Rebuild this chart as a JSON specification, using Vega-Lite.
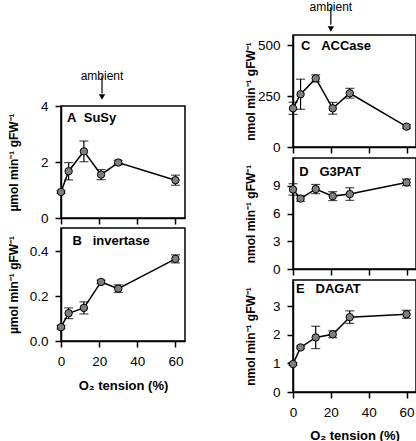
{
  "$schema": "https://vega.github.io/schema/vega-lite/v6.json",
  "padding": {"left": 6, "top": 0, "right": 0, "bottom": 0},
  "autosize": {"type": "pad"},
  "datasets": {
    "enz": [
      {"panel": "A", "o2": 0, "mean": 0.93, "se": 0.05},
      {"panel": "A", "o2": 4, "mean": 1.67, "se": 0.31},
      {"panel": "A", "o2": 12, "mean": 2.38, "se": 0.37},
      {"panel": "A", "o2": 21, "mean": 1.55, "se": 0.18},
      {"panel": "A", "o2": 30, "mean": 1.98, "se": 0.08},
      {"panel": "A", "o2": 60, "mean": 1.35, "se": 0.18},
      {"panel": "B", "o2": 0, "mean": 0.062, "se": 0.008},
      {"panel": "B", "o2": 4, "mean": 0.124, "se": 0.024},
      {"panel": "B", "o2": 12, "mean": 0.148, "se": 0.027},
      {"panel": "B", "o2": 21, "mean": 0.264, "se": 0.008},
      {"panel": "B", "o2": 30, "mean": 0.234, "se": 0.017},
      {"panel": "B", "o2": 60, "mean": 0.367, "se": 0.018},
      {"panel": "C", "o2": 0, "mean": 190, "se": 30},
      {"panel": "C", "o2": 4, "mean": 259, "se": 74},
      {"panel": "C", "o2": 12, "mean": 337, "se": 17},
      {"panel": "C", "o2": 21, "mean": 190, "se": 29},
      {"panel": "C", "o2": 30, "mean": 264, "se": 24},
      {"panel": "C", "o2": 60, "mean": 100, "se": 8},
      {"panel": "D", "o2": 0, "mean": 8.6, "se": 0.62},
      {"panel": "D", "o2": 4, "mean": 7.62, "se": 0.3},
      {"panel": "D", "o2": 12, "mean": 8.64, "se": 0.5},
      {"panel": "D", "o2": 21, "mean": 7.88, "se": 0.48},
      {"panel": "D", "o2": 30, "mean": 8.1, "se": 0.68},
      {"panel": "D", "o2": 60, "mean": 9.36, "se": 0.36},
      {"panel": "E", "o2": 0, "mean": 0.98, "se": 0.05},
      {"panel": "E", "o2": 4, "mean": 1.56, "se": 0.05},
      {"panel": "E", "o2": 12, "mean": 1.91, "se": 0.39},
      {"panel": "E", "o2": 21, "mean": 2.02, "se": 0.12},
      {"panel": "E", "o2": 30, "mean": 2.62, "se": 0.22},
      {"panel": "E", "o2": 60, "mean": 2.72, "se": 0.14}
    ],
    "titles": [
      {"panel": "A", "o2": 3.2, "mean": 3.58, "label": "A\u00a0\u00a0SuSy"},
      {"panel": "B", "o2": 6, "mean": 0.446, "label": "B\u00a0\u00a0\u00a0invertase"},
      {"panel": "C", "o2": 4.2, "mean": 498, "label": "C\u00a0\u00a0\u00a0ACCase"},
      {"panel": "D", "o2": 3.3, "mean": 10.5, "label": "D\u00a0\u00a0\u00a0G3PAT"},
      {"panel": "E", "o2": 1.6, "mean": 3.59, "label": "E\u00a0\u00a0\u00a0DAGAT"}
    ],
    "ambient": [
      {"panel": "A", "o2": 21.5, "mean": 5.07, "end": 4.45, "tip": 4.32, "label": "ambient"},
      {"panel": "C", "o2": 20, "mean": 686, "end": 600, "tip": 579, "label": "ambient"}
    ]
  },
  "hconcat": [
    {
      "vconcat": [
        {
          "width": 124, "height": 61,
          "data": {"values": [{"k": 1}]},
          "mark": {"type": "text", "text": ""},
          "view": {"stroke": null}
        },
        {
          "width": 124, "height": 112,
          "encoding": {
            "x": {"field": "o2", "type": "quantitative", "scale": {"domain": [0, 65], "nice": false, "zero": false}, "axis": {"values": [0, 20, 40, 60], "labels": false, "title": null}},
            "y": {"field": "mean", "type": "quantitative", "scale": {"domain": [0, 4], "nice": false}, "axis": {"values": [0, 2, 4], "title": "µmol min⁻¹ gFW⁻¹", "titleX": -40.5}}
          },
          "layer": [
            {"data": {"name": "enz"}, "transform": [{"filter": "datum.panel === 'A'"}], "mark": {"type": "errorbar", "ticks": true, "size": 9, "thickness": 1.2, "color": "black"}, "encoding": {"yError": {"field": "se"}}},
            {"data": {"name": "enz"}, "transform": [{"filter": "datum.panel === 'A'"}], "mark": {"type": "line", "color": "black", "strokeWidth": 1.5}},
            {"data": {"name": "enz"}, "transform": [{"filter": "datum.panel === 'A'"}], "mark": {"type": "point", "filled": true, "fill": "#7f7f7f", "stroke": "black", "strokeWidth": 1, "size": 55, "opacity": 1}},
            {"data": {"name": "titles"}, "transform": [{"filter": "datum.panel === 'A'"}], "mark": {"type": "text", "align": "left", "baseline": "middle", "fontWeight": "bold", "fontSize": 13, "font": "Liberation Sans", "color": "black"}, "encoding": {"text": {"field": "label"}}},
            {"data": {"name": "ambient"}, "transform": [{"filter": "datum.panel === 'A'"}], "mark": {"type": "text", "align": "center", "baseline": "middle", "fontSize": 12, "font": "Liberation Sans", "color": "black"}, "encoding": {"text": {"field": "label"}}},
            {"data": {"name": "ambient"}, "transform": [{"filter": "datum.panel === 'A'"}], "mark": {"type": "rule", "color": "black", "strokeWidth": 1.2}, "encoding": {"y": {"field": "mean", "type": "quantitative", "offset": 5}, "y2": {"field": "end"}}},
            {"data": {"name": "ambient"}, "transform": [{"filter": "datum.panel === 'A'"}], "mark": {"type": "point", "shape": "triangle-down", "filled": true, "color": "black", "size": 40, "opacity": 1}, "encoding": {"y": {"field": "tip", "type": "quantitative"}}}
          ]
        },
        {
          "width": 124, "height": 113,
          "encoding": {
            "x": {"field": "o2", "type": "quantitative", "scale": {"domain": [0, 65], "nice": false, "zero": false}, "axis": {"values": [0, 20, 40, 60], "title": "O₂ tension (%)", "titleY": 44, "titleBaseline": "middle"}},
            "y": {"field": "mean", "type": "quantitative", "scale": {"domain": [0, 0.505], "nice": false}, "axis": {"values": [0, 0.2, 0.4], "format": ".1f", "title": "µmol min⁻¹ gFW⁻¹", "titleX": -40.5}}
          },
          "layer": [
            {"data": {"name": "enz"}, "transform": [{"filter": "datum.panel === 'B'"}], "mark": {"type": "errorbar", "ticks": true, "size": 9, "thickness": 1.2, "color": "black"}, "encoding": {"yError": {"field": "se"}}},
            {"data": {"name": "enz"}, "transform": [{"filter": "datum.panel === 'B'"}], "mark": {"type": "line", "color": "black", "strokeWidth": 1.5}},
            {"data": {"name": "enz"}, "transform": [{"filter": "datum.panel === 'B'"}], "mark": {"type": "point", "filled": true, "fill": "#7f7f7f", "stroke": "black", "strokeWidth": 1, "size": 55, "opacity": 1}},
            {"data": {"name": "titles"}, "transform": [{"filter": "datum.panel === 'B'"}], "mark": {"type": "text", "align": "left", "baseline": "middle", "fontWeight": "bold", "fontSize": 13, "font": "Liberation Sans", "color": "black"}, "encoding": {"text": {"field": "label"}}}
          ]
        }
      ],
      "spacing": 10,
      "bounds": "flush"
    },
    {
      "vconcat": [
        {
          "width": 123, "height": 112,
          "encoding": {
            "x": {"field": "o2", "type": "quantitative", "scale": {"domain": [0, 65], "nice": false, "zero": false}, "axis": {"values": [0, 20, 40, 60], "labels": false, "title": null}},
            "y": {"field": "mean", "type": "quantitative", "scale": {"domain": [0, 550], "nice": false}, "axis": {"values": [0, 250, 500], "title": "nmol min⁻¹ gFW⁻¹", "titleX": -35.5}}
          },
          "layer": [
            {"data": {"name": "enz"}, "transform": [{"filter": "datum.panel === 'C'"}], "mark": {"type": "errorbar", "ticks": true, "size": 9, "thickness": 1.2, "color": "black"}, "encoding": {"yError": {"field": "se"}}},
            {"data": {"name": "enz"}, "transform": [{"filter": "datum.panel === 'C'"}], "mark": {"type": "line", "color": "black", "strokeWidth": 1.5}},
            {"data": {"name": "enz"}, "transform": [{"filter": "datum.panel === 'C'"}], "mark": {"type": "point", "filled": true, "fill": "#7f7f7f", "stroke": "black", "strokeWidth": 1, "size": 55, "opacity": 1}},
            {"data": {"name": "titles"}, "transform": [{"filter": "datum.panel === 'C'"}], "mark": {"type": "text", "align": "left", "baseline": "middle", "fontWeight": "bold", "fontSize": 13, "font": "Liberation Sans", "color": "black"}, "encoding": {"text": {"field": "label"}}},
            {"data": {"name": "ambient"}, "transform": [{"filter": "datum.panel === 'C'"}], "mark": {"type": "text", "align": "center", "baseline": "middle", "fontSize": 12, "font": "Liberation Sans", "color": "black"}, "encoding": {"text": {"field": "label"}}},
            {"data": {"name": "ambient"}, "transform": [{"filter": "datum.panel === 'C'"}], "mark": {"type": "rule", "color": "black", "strokeWidth": 1.2}, "encoding": {"y": {"field": "mean", "type": "quantitative", "offset": 5}, "y2": {"field": "end"}}},
            {"data": {"name": "ambient"}, "transform": [{"filter": "datum.panel === 'C'"}], "mark": {"type": "point", "shape": "triangle-down", "filled": true, "color": "black", "size": 40, "opacity": 1}, "encoding": {"y": {"field": "tip", "type": "quantitative"}}}
          ]
        },
        {
          "width": 123, "height": 111,
          "encoding": {
            "x": {"field": "o2", "type": "quantitative", "scale": {"domain": [0, 65], "nice": false, "zero": false}, "axis": {"values": [0, 20, 40, 60], "labels": false, "title": null}},
            "y": {"field": "mean", "type": "quantitative", "scale": {"domain": [0, 12], "nice": false}, "axis": {"values": [0, 3, 6, 9], "title": "nmol min⁻¹ gFW⁻¹", "titleX": -35.5}}
          },
          "layer": [
            {"data": {"name": "enz"}, "transform": [{"filter": "datum.panel === 'D'"}], "mark": {"type": "errorbar", "ticks": true, "size": 9, "thickness": 1.2, "color": "black"}, "encoding": {"yError": {"field": "se"}}},
            {"data": {"name": "enz"}, "transform": [{"filter": "datum.panel === 'D'"}], "mark": {"type": "line", "color": "black", "strokeWidth": 1.5}},
            {"data": {"name": "enz"}, "transform": [{"filter": "datum.panel === 'D'"}], "mark": {"type": "point", "filled": true, "fill": "#7f7f7f", "stroke": "black", "strokeWidth": 1, "size": 55, "opacity": 1}},
            {"data": {"name": "titles"}, "transform": [{"filter": "datum.panel === 'D'"}], "mark": {"type": "text", "align": "left", "baseline": "middle", "fontWeight": "bold", "fontSize": 13, "font": "Liberation Sans", "color": "black"}, "encoding": {"text": {"field": "label"}}}
          ]
        },
        {
          "width": 123, "height": 112,
          "encoding": {
            "x": {"field": "o2", "type": "quantitative", "scale": {"domain": [0, 65], "nice": false, "zero": false}, "axis": {"values": [0, 20, 40, 60], "title": "O₂ tension (%)", "titleY": 43, "titleBaseline": "middle"}},
            "y": {"field": "mean", "type": "quantitative", "scale": {"domain": [0, 3.92], "nice": false}, "axis": {"values": [0, 1, 2, 3], "title": "nmol min⁻¹ gFW⁻¹", "titleX": -35.5}}
          },
          "layer": [
            {"data": {"name": "enz"}, "transform": [{"filter": "datum.panel === 'E'"}], "mark": {"type": "errorbar", "ticks": true, "size": 9, "thickness": 1.2, "color": "black"}, "encoding": {"yError": {"field": "se"}}},
            {"data": {"name": "enz"}, "transform": [{"filter": "datum.panel === 'E'"}], "mark": {"type": "line", "color": "black", "strokeWidth": 1.5}},
            {"data": {"name": "enz"}, "transform": [{"filter": "datum.panel === 'E'"}], "mark": {"type": "point", "filled": true, "fill": "#7f7f7f", "stroke": "black", "strokeWidth": 1, "size": 55, "opacity": 1}},
            {"data": {"name": "titles"}, "transform": [{"filter": "datum.panel === 'E'"}], "mark": {"type": "text", "align": "left", "baseline": "middle", "fontWeight": "bold", "fontSize": 13, "font": "Liberation Sans", "color": "black"}, "encoding": {"text": {"field": "label"}}}
          ]
        }
      ],
      "spacing": 11,
      "bounds": "flush"
    }
  ],
  "spacing": 232,
  "bounds": "flush",
  "config": {
    "font": "Liberation Sans",
    "view": {"stroke": "black", "strokeWidth": 1.5},
    "axis": {
      "grid": false,
      "domainColor": "black", "domainWidth": 1.5,
      "tickColor": "black", "tickWidth": 1.5, "tickSize": 6,
      "labelFont": "Liberation Sans", "labelFontSize": 13.5, "labelColor": "black", "labelPadding": 7, "labelFlush": false,
      "titleFont": "Liberation Sans", "titleFontSize": 12, "titleFontWeight": "bold", "titleColor": "black"
    },
    "axisX": {"titleFontSize": 13, "labelPadding": 7}
  }
}
